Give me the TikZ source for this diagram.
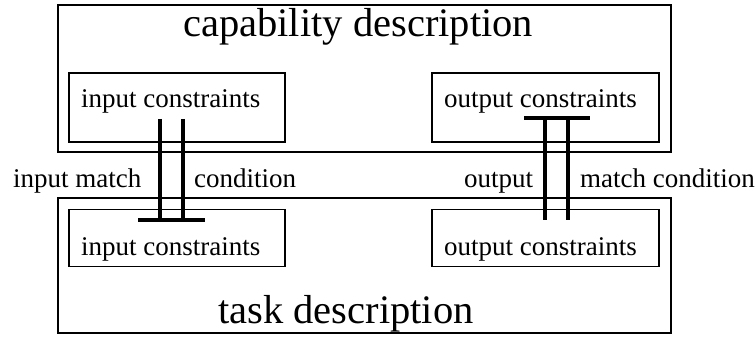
\documentclass[tikz,border=0pt]{standalone}
\usepackage{fontspec}
\setmainfont{Liberation Serif}
\begin{document}
\begin{tikzpicture}[x=1pt,y=-1pt,
  outerbox/.style={draw,line width=1.3pt,rectangle,inner sep=0pt},
  innerbox/.style={draw,line width=1.3pt,rectangle,inner sep=0pt},
  lbl/.style={anchor=base west,inner sep=0pt,font=\fontsize{27}{30}\selectfont},
  ttl/.style={anchor=base west,inner sep=0pt,font=\fontsize{40.5}{44}\selectfont},
  match/.style={line width=3.5pt}]
\useasboundingbox (0,0) rectangle (756,337);
% outer boxes
\node[outerbox,minimum width=613pt,minimum height=147pt] (cap) at (364.5,78.5) {};
\node[outerbox,minimum width=613pt,minimum height=135pt] (task) at (364.5,265.5) {};
% inner boxes
\node[innerbox,minimum width=216pt,minimum height=69pt] (capin) at (177,107.5) {};
\node[innerbox,minimum width=227pt,minimum height=69pt] (capout) at (545.5,107.5) {};
\node[innerbox,minimum width=216pt,minimum height=57pt] (taskin) at (177,238) {};
\node[innerbox,minimum width=227pt,minimum height=57pt] (taskout) at (545.5,238) {};
% titles
\node[ttl] (captitle) at (183,37) {capability description};
\node[ttl] (tasktitle) at (218,323) {task description};
% inner labels
\node[lbl] (capinl) at (81,108) {input constraints};
\node[lbl] (capoutl) at (444,108) {output constraints};
\node[lbl] (taskinl) at (81,255) {input constraints};
\node[lbl] (taskoutl) at (444,255) {output constraints};
% match labels
\node[lbl] (im) at (13,187) {input match};
\node[lbl] (ic) at (194,187) {condition};
\node[lbl] (om) at (464,187) {output};
\node[lbl] (oc) at (580,187) {match condition};
% input match connector
\coordinate (i1t) at (160,119);
\coordinate (i1b) at (160,220);
\coordinate (i2t) at (183,119);
\coordinate (i2b) at (183,220);
\coordinate (ibl) at (138,220);
\coordinate (ibr) at (205,220);
\draw[match] (i1t) -- (i1b);
\draw[match] (i2t) -- (i2b);
\draw[match] (ibl) -- (ibr);
% output match connector
\coordinate (o1t) at (545,118);
\coordinate (o1b) at (545,220);
\coordinate (o2t) at (568,118);
\coordinate (o2b) at (568,220);
\coordinate (obl) at (524,118);
\coordinate (obr) at (590,118);
\draw[match] (o1t) -- (o1b);
\draw[match] (o2t) -- (o2b);
\draw[match] (obl) -- (obr);
\end{tikzpicture}
\end{document}
